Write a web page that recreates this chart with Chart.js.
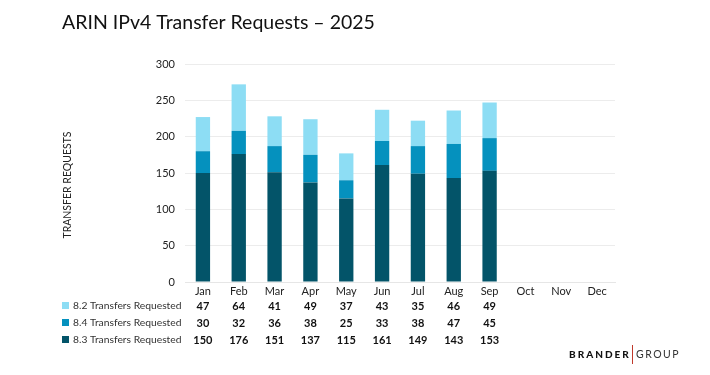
<!DOCTYPE html>
<html>
<head>
<meta charset="utf-8">
<script src="https://cdn.jsdelivr.net/npm/chart.js@4"></script>
<style>
  html, body { margin: 0; padding: 0; background: #fff; }
  #wrap { width: 710px; height: 375px; }
</style>
</head>
<body>
<div id="wrap"><canvas id="myChart" width="710" height="375"></canvas></div>
<script>
const months = ['Jan', 'Feb', 'Mar', 'Apr', 'May', 'Jun', 'Jul', 'Aug', 'Sep', 'Oct', 'Nov', 'Dec'];
const req82 = [47, 64, 41, 49, 37, 43, 35, 46, 49];
const req84 = [30, 32, 36, 38, 25, 33, 38, 47, 45];
const req83 = [150, 176, 151, 137, 115, 161, 149, 143, 153];
const yTicks = [0, 50, 100, 150, 200, 250, 300];

const FONT = 'Lato, "Open Sans", sans-serif';
const colLight = 'rgb(141, 221, 244)';
const colMid = 'rgb(5, 145, 190)';
const colDark = 'rgb(3, 84, 105)';

// rows of the table under the chart (top to bottom)
const tableRows = [
  { label: '8.2 Transfers Requested', values: req82, color: colLight },
  { label: '8.4 Transfers Requested', values: req84, color: colMid },
  { label: '8.3 Transfers Requested', values: req83, color: colDark }
];

const extras = {
  id: 'extras',
  afterDraw(chart) {
    const ctx = chart.ctx;
    const xs = chart.scales.x;
    ctx.save();

    // title
    ctx.fillStyle = '#111';
    ctx.font = '19.5px ' + FONT;
    ctx.textAlign = 'left';
    ctx.textBaseline = 'middle';
    ctx.fillText('ARIN IPv4 Transfer Requests \u2013 2025', 62, 23);

    // y axis title
    ctx.save();
    ctx.translate(68, 185);
    ctx.rotate(-Math.PI / 2);
    ctx.font = '10.5px ' + FONT;
    ctx.fillStyle = '#222';
    ctx.textAlign = 'center';
    ctx.fillText('TRANSFER REQUESTS', 0, 0);
    ctx.restore();

    // data table
    tableRows.forEach((row, r) => {
      const y = 306 + r * 17;
      ctx.fillStyle = row.color;
      ctx.fillRect(62, y - 4, 7, 7);
      ctx.fillStyle = '#333';
      ctx.font = '10.3px ' + FONT;
      ctx.textAlign = 'left';
      ctx.fillText(row.label, 73, y);
      ctx.font = 'bold 11px ' + FONT;
      ctx.fillStyle = '#111';
      ctx.textAlign = 'center';
      row.values.forEach((v, i) => {
        ctx.fillText(String(v), xs.getPixelForValue(i), y);
      });
    });

    // logo
    ctx.textAlign = 'left';
    ctx.fillStyle = '#111';
    ctx.font = '900 10px ' + FONT;
    ctx.letterSpacing = '2px';
    ctx.fillText('BRANDER', 569, 355);
    ctx.strokeStyle = '#c0392b';
    ctx.lineWidth = 1;
    ctx.beginPath();
    ctx.moveTo(632.5, 345);
    ctx.lineTo(632.5, 364);
    ctx.stroke();
    ctx.fillStyle = '#333';
    ctx.font = '10.5px ' + FONT;
    ctx.letterSpacing = '1.5px';
    ctx.fillText('GROUP', 636, 355);
    ctx.restore();
  }
};

const data = {
  labels: months,
  datasets: [
    { label: '8.3 Transfers Requested', data: req83, backgroundColor: colDark },
    { label: '8.4 Transfers Requested', data: req84, backgroundColor: colMid },
    { label: '8.2 Transfers Requested', data: req82, backgroundColor: colLight }
  ]
};

const config = {
  type: 'bar',
  data,
  options: {
    responsive: false,
    animation: false,
    layout: { padding: { left: 100, top: 64, right: 95, bottom: 0 } },
    datasets: { bar: { barPercentage: 0.4, categoryPercentage: 1 } },
    plugins: { legend: { display: false }, tooltip: { enabled: false } },
    scales: {
      x: {
        stacked: true,
        grid: { display: false, drawTicks: false },
        border: { display: true, color: '#e6e6e6' },
        ticks: { color: '#222', font: { family: FONT, size: 11 }, padding: 3 },
        afterFit(scale) { scale.height = 93; }
      },
      y: {
        stacked: true,
        min: 0,
        max: 300,
        afterBuildTicks(scale) { scale.ticks = yTicks.map(v => ({ value: v })); },
        grid: { color: '#ececec', drawTicks: false },
        border: { display: false },
        ticks: { color: '#222', font: { family: FONT, size: 11 }, padding: 10 },
        afterFit(scale) { scale.width = 85; }
      }
    }
  },
  plugins: [extras]
};

const myChart = new Chart(document.getElementById('myChart'), config);
</script>
</body>
</html>
